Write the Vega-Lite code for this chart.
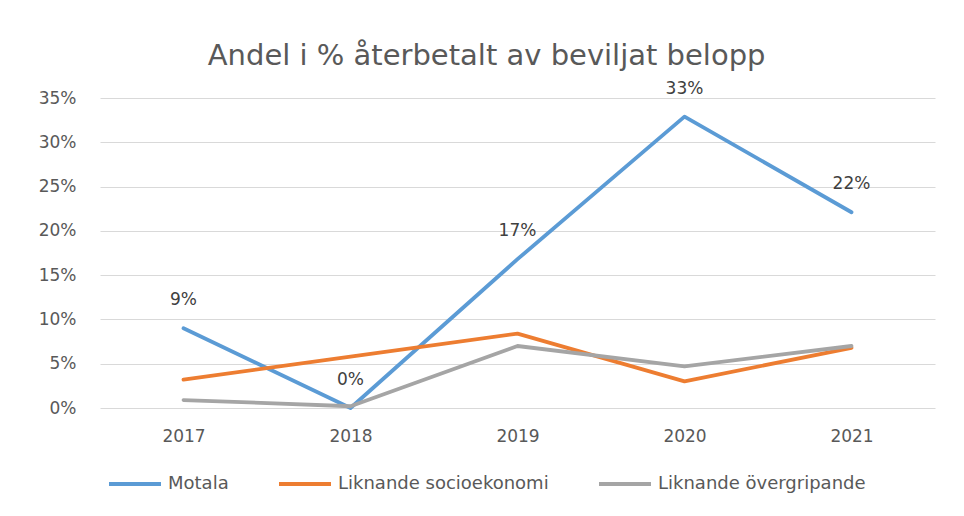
{
  "$schema": "https://vega.github.io/schema/vega-lite/v6.json",
  "width": 835,
  "height": 310,
  "autosize": {"type": "none"},
  "padding": {"left": 100, "top": 98, "right": 29, "bottom": 108},
  "background": "white",
  "config": {
    "view": {"stroke": null},
    "font": "DejaVu Sans",
    "axis": {"labelFont": "DejaVu Sans", "labelColor": "#595959", "labelFontSize": 17}
  },
  "title": {
    "text": "Andel i % återbetalt av beviljat belopp",
    "font": "DejaVu Sans",
    "fontSize": 29,
    "fontWeight": "normal",
    "color": "#595959",
    "anchor": "middle",
    "frame": "bounds",
    "offset": 9
  },
  "data": {
    "values": [
      {"year": "2017", "series": "Motala", "value": 0.09},
      {"year": "2018", "series": "Motala", "value": 0.0},
      {"year": "2019", "series": "Motala", "value": 0.168},
      {"year": "2020", "series": "Motala", "value": 0.329},
      {"year": "2021", "series": "Motala", "value": 0.221},
      {"year": "2017", "series": "Liknande socioekonomi", "value": 0.032},
      {"year": "2018", "series": "Liknande socioekonomi", "value": 0.058},
      {"year": "2019", "series": "Liknande socioekonomi", "value": 0.084},
      {"year": "2020", "series": "Liknande socioekonomi", "value": 0.030},
      {"year": "2021", "series": "Liknande socioekonomi", "value": 0.068},
      {"year": "2017", "series": "Liknande övergripande", "value": 0.009},
      {"year": "2018", "series": "Liknande övergripande", "value": 0.002},
      {"year": "2019", "series": "Liknande övergripande", "value": 0.070},
      {"year": "2020", "series": "Liknande övergripande", "value": 0.047},
      {"year": "2021", "series": "Liknande övergripande", "value": 0.070}
    ]
  },
  "encoding": {
    "x": {
      "field": "year",
      "type": "ordinal",
      "scale": {"type": "point", "padding": 0.5},
      "axis": {"title": null, "domain": false, "ticks": false, "grid": false, "labelAngle": 0, "labelPadding": 20, "labelColor": "#595959"}
    },
    "y": {
      "field": "value",
      "type": "quantitative",
      "scale": {"domain": [0, 0.35], "nice": false},
      "axis": {
        "title": null,
        "format": ".0%",
        "values": [0, 0.05, 0.1, 0.15, 0.2, 0.25, 0.3, 0.35],
        "domain": false,
        "ticks": false,
        "grid": true,
        "gridColor": "#D9D9D9",
        "gridWidth": 1,
        "labelPadding": 24
      }
    }
  },
  "layer": [
    {
      "mark": {"type": "line", "strokeWidth": 3.8, "strokeCap": "round", "strokeJoin": "round"},
      "encoding": {
        "color": {
          "field": "series",
          "type": "nominal",
          "sort": ["Motala", "Liknande socioekonomi", "Liknande övergripande"],
          "scale": {
            "domain": ["Motala", "Liknande socioekonomi", "Liknande övergripande"],
            "range": ["#5B9BD5", "#ED7D31", "#A5A5A5"]
          },
          "legend": {
            "title": null,
            "orient": "none",
            "direction": "horizontal",
            "legendX": 7,
            "legendY": 358,
            "symbolType": "stroke",
            "symbolSize": 2704,
            "symbolStrokeWidth": 4,
            "labelFont": "DejaVu Sans",
            "labelFontSize": 18,
            "labelColor": "#595959",
            "labelOffset": 5,
            "columnPadding": 42,
            "labelLimit": 400
          }
        }
      }
    },
    {
      "transform": [{"filter": "datum.series === 'Motala'"}],
      "mark": {"type": "text", "dy": -28, "fontSize": 17, "color": "#404040", "font": "DejaVu Sans"},
      "encoding": {
        "text": {"field": "value", "type": "quantitative", "format": ".0%"}
      }
    }
  ]
}
